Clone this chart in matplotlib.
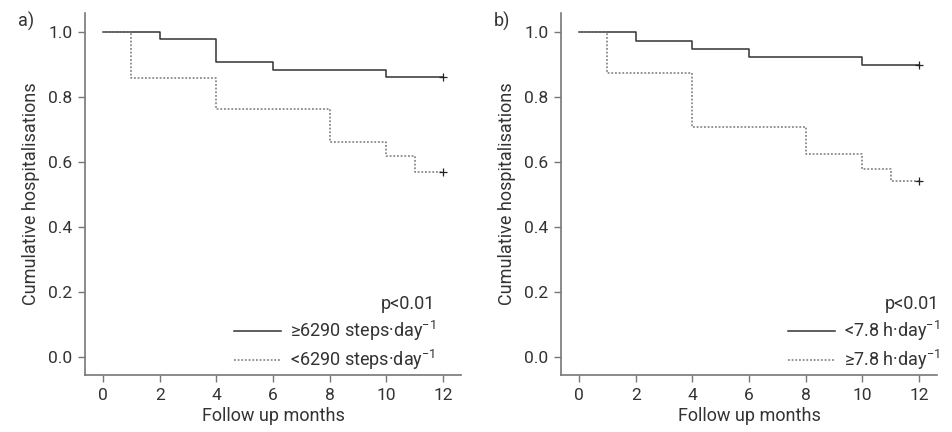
import numpy as np
import matplotlib
matplotlib.use("Agg")
import matplotlib.pyplot as plt

plt.rcParams['font.family'] = ['Roboto', 'DejaVu Sans']
plt.rcParams['mathtext.fontset'] = 'custom'
plt.rcParams['mathtext.rm'] = 'Roboto'
plt.rcParams['mathtext.default'] = 'regular'

# step times (months) and survival values
a_hi_t = [0, 2, 4, 6, 10, 12]
a_hi_s = [1.0, 0.977, 0.907, 0.883, 0.862, 0.862]
a_lo_t = [0, 1, 4, 8, 10, 11, 12]
a_lo_s = [1.0, 0.857, 0.763, 0.662, 0.619, 0.568, 0.568]

b_lo_t = [0, 2, 4, 6, 10, 12]
b_lo_s = [1.0, 0.973, 0.947, 0.923, 0.898, 0.898]
b_hi_t = [0, 1, 4, 8, 10, 11, 12]
b_hi_s = [1.0, 0.875, 0.708, 0.625, 0.578, 0.540, 0.540]

xticks = [0, 2, 4, 6, 8, 10, 12]
yticks = [0.0, 0.2, 0.4, 0.6, 0.8, 1.0]

panels = [
    ("a)", (a_hi_t, a_hi_s), (a_lo_t, a_lo_s),
     "\u22656290 steps\u00b7day$^{\u22121}$", "<6290 steps\u00b7day$^{\u22121}$", 0.965),
    ("b)", (b_lo_t, b_lo_s), (b_hi_t, b_hi_s),
     "<7.8 h\u00b7day$^{\u22121}$", "\u22657.8 h\u00b7day$^{\u22121}$", 1.04),
]

txt = '#333333'
fs = 13
fig = plt.figure(figsize=(9.53, 4.32), dpi=100)
lefts = [85 / 953, 561 / 953]

for (lab, solid, dotted, l1, l2, lx), left in zip(panels, lefts):
    ax = fig.add_axes([left, 57 / 432, 376 / 953, 362 / 432])
    ax.step(solid[0], solid[1], where='post', color='#333333', lw=1.1, label=l1)
    ax.step(dotted[0], dotted[1], where='post', color='#777777', lw=1.1,
            ls=(0, (1.2, 1.2)), label=l2)
    ax.plot(solid[0][-1], solid[1][-1], marker='+', color='#222222', ms=6, mew=0.9)
    ax.plot(dotted[0][-1], dotted[1][-1], marker='+', color='#222222', ms=6, mew=0.9)

    ax.set_xlim(-0.64, 12.64)
    ax.set_ylim(-0.055, 1.058)
    ax.set_xticks(xticks)
    ax.set_yticks(yticks)
    ax.set_yticklabels([f"{v:.1f}" for v in yticks])
    for s in ['top', 'right']:
        ax.spines[s].set_visible(False)
    for s in ['left', 'bottom']:
        ax.spines[s].set_color('#777777')
        ax.spines[s].set_linewidth(1.2)
    ax.tick_params(colors='#777777', labelcolor=txt, labelsize=12.5, length=5, width=1, pad=4)
    ax.set_xlabel("Follow up months", fontsize=fs, color=txt, labelpad=3)
    ax.set_ylabel("Cumulative hospitalisations", fontsize=fs, color=txt, labelpad=6)

    leg = ax.legend(loc='lower right', bbox_to_anchor=(lx, -0.028), frameon=False,
                    title="p<0.01", fontsize=fs, title_fontsize=fs,
                    handlelength=2.6, handletextpad=0.5, labelspacing=0.3,
                    alignment='right', borderpad=0.2)
    for t in leg.get_texts():
        t.set_color(txt)
    leg.get_title().set_color(txt)

    fig.text(left - 67 / 953, 1 - 21 / 432, lab, fontsize=fs, color=txt,
             ha='left', va='center')

fig.savefig("out.png", dpi=100)
